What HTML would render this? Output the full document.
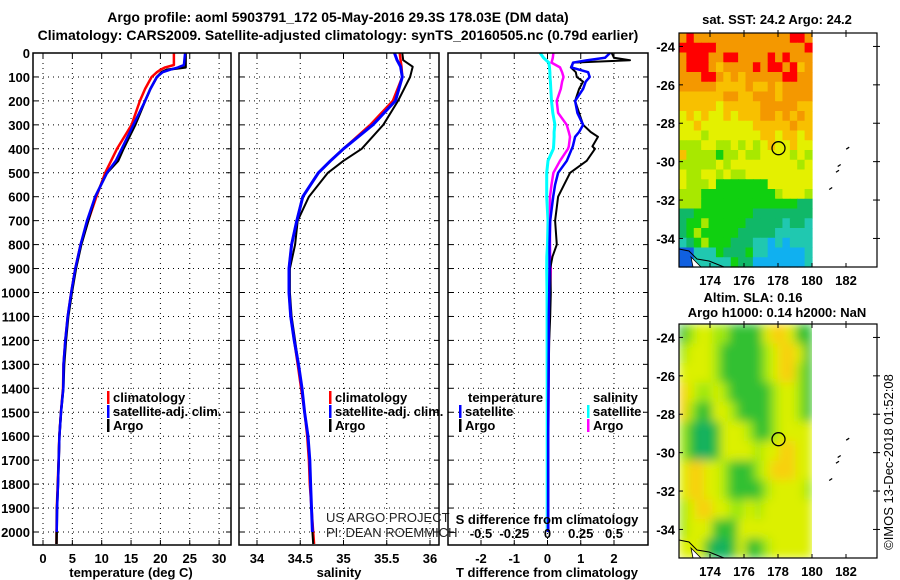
<!DOCTYPE html>
<html><head><meta charset="utf-8"><style>
html,body{margin:0;padding:0;background:#fff;}
svg{display:block;font-family:"Liberation Sans",sans-serif;}
.b{font-weight:bold;font-size:13px;}
.n{font-size:13px;}
</style></head><body>
<svg id="c" width="900" height="580" viewBox="0 0 900 580">
<defs>
<filter id="blur" x="0" y="0" width="1" height="1"><feGaussianBlur stdDeviation="5" edgeMode="duplicate"/></filter>
<clipPath id="clipsla"><rect x="679" y="324" width="133" height="234"/></clipPath>
</defs>
<text x="338" y="22" text-anchor="middle" class="b" style="font-size:14px">Argo profile: aoml 5903791_172 05-May-2016 29.3S 178.03E (DM data)</text>
<text x="338" y="40" text-anchor="middle" class="b" style="font-size:14px">Climatology: CARS2009. Satellite-adjusted climatology: synTS_20160505.nc (0.79d earlier)</text>
</svg>
<script>
// ---- data ----
const tDepth = [0,50,60,70,80,100,150,200,300,400,450,500,600,700,800,900,1000,1100,1200,1300,1400,1500,1600,1700,1800,1900,2000,2050];
const tArgo  = [24.3,24.3,24.3,21.1,20.2,19.4,18.3,17.4,15.7,13.7,12.8,10.9,8.9,7.7,6.5,5.6,4.9,4.3,3.9,3.6,3.46,3.07,2.8,2.67,2.56,2.38,2.33,2.3];
const tClim  = [22.3,22.3,20.8,20.0,19.4,18.5,17.4,16.5,15.1,12.6,11.6,10.6,9.1,7.7,6.4,5.5,4.8,4.2,3.8,3.5,3.4,3.05,2.78,2.65,2.5,2.35,2.3,2.3];
const tSat   = [24.2,24.0,23.0,21.6,20.4,19.4,18.3,17.4,15.4,13.4,12.4,10.9,8.9,7.5,6.4,5.5,4.8,4.2,3.8,3.5,3.46,3.07,2.8,2.67,2.56,2.4,2.33];
const sDepth = [0,30,57,100,200,300,400,450,500,600,700,800,900,1000,1100,1200,1300,1400,1500,1600,1700,1800,1900,2000,2050];
const sArgo  = [35.68,35.69,35.80,35.77,35.63,35.46,35.21,35.0,34.82,34.60,34.47,34.44,34.38,34.38,34.40,34.44,34.48,34.52,34.55,34.59,34.61,34.62,34.63,34.64,34.65];
const sClim  = [35.65,35.66,35.67,35.68,35.57,35.31,35.0,34.85,34.71,34.53,34.46,34.40,34.37,34.37,34.39,34.43,34.47,34.51,34.55,34.58,34.60,34.61,34.63,34.65,34.66];
const sSat   = [35.59,35.62,35.66,35.68,35.60,35.34,35.0,34.85,34.71,34.53,34.46,34.40,34.37,34.37,34.39,34.43,34.48,34.52,34.55,34.59,34.61,34.62,34.63,34.64];
const dDepth = [0,20,30,40,60,80,100,120,150,200,250,300,330,350,390,400,450,500,550,600,700,800,850,900,1000,1100,1200,1400,1600,1800,2000];
const dTArgo = [1.93,2.0,2.48,0.77,0.70,0.85,0.88,1.07,0.95,0.83,0.95,1.07,1.3,1.52,1.35,1.43,1.18,0.68,0.5,0.32,0.23,0.28,0.15,0.08,0.1,0.08,0.05,0.03,0.02,0.03,0.02];
const dTSat  = [1.88,1.73,1.2,0.77,0.72,1.22,1.27,1.15,1.07,0.83,0.9,1.07,0.95,0.83,0.76,0.73,0.58,0.32,0.23,0.17,0.08,0.06,0.06,0.06,0.05,0.04,0.04,0.03,0.02,0.02,0.02];
const dSArgo = [0.044,0.04,0.035,0.03,0.094,0.11,0.12,0.11,0.10,0.069,0.08,0.144,0.16,0.169,0.16,0.154,0.094,0.044,0.03,0.019,0.019,0.019,0.02,0.025,0.02,0.015,0.01,0.008,0.005,0.005,0.004];
const dSSat  = [-0.056,-0.03,-0.01,0.01,0.015,0.018,0.019,0.022,0.025,0.03,0.04,0.056,0.05,0.05,0.046,0.044,0.004,-0.006,-0.006,-0.006,0.004,0.0,-0.005,-0.006,-0.004,-0.003,-0.003,-0.002,-0.002,-0.002,-0.002];
const depthTicks = [0,100,200,300,400,500,600,700,800,900,1000,1100,1200,1300,1400,1500,1600,1700,1800,1900,2000];
const tTicks = [0,5,10,15,20,25,30];
const sTicks = [34,34.5,35,35.5,36];
const sTickLabels = ["34","34.5","35","35.5","36"];
const dTTicks = [-2,-1,0,1,2];
const dSTicks = [-0.5,-0.25,0,0.25,0.5];
const dSTickLabels = ["-0.5","-0.25","0","0.25","0.5"];
const latTicks = [-24,-26,-28,-30,-32,-34];
const lonTicks = [174,176,178,180,182];
const sstRows = [
"OROOOOOOOOOOOOORRO","RRRRROOOOOOOOOOOOR","ORRROORROOOOROROOO","ORRROAOOOORORRORAO","OOORROAOAOOOOORROO",
"OOOOOAAAAOAAOAOOOO","AAAAAAOOAAOOOAOOOO","AAAAAYAAAAAOOOOOAA","YAYAYYAYAAAOOAOAOA","YYAYYYYYYYAAAAAOAA",
"YYYLYYYYYYYAAYAAYA","LLLYYLLYLYLYAYYAYY","ALLLLGLLYLLYYYYLYL","LLLLLYLYYYYYYYYYLY","YLLYYLYLLYYYYYYYYY",
"YLLLYGGGGGGGYYYYYY","LLLGGGGGGGGGGLYYYL","LLLGGGGGGGGGGGGGTT","TTGGGGGGGGTTTTTTTT","TGGLGGGGGTTTTTCTTC",
"TGLGGGGGTTTTTCCCCC","CTGLGGGTTTCCBCBCCC","DDCCCGTTTGCCBBBBBC","DDCCCCCGTTBBBBBBBC"];
const slaRows = ["GLYYLLGGGGYOOYGG","LYYYLGGGGGLYOOYG","YYYYLGGGGGLYOOLG","OYLLYLGGGGGLYYLG","OLGGYYLGGGGLYYLG","LGTTGYYYLGGLYYYY","LGTTGYYYYLYYOOYY","YOOYYLGGGLYOOOYY","YOOYYLGGGGLYYYYL","LYOOYYLLYLYYYYYY","LYYYGGGYYYYYYYYY","YYYGTTGYGGLYYYYY"];
const argoLon = 178.03, argoLat = -29.3;

// ---- drawing ----
const NS="http://www.w3.org/2000/svg";
const svg=document.getElementById('c');
function mk(tag,attrs,parent){const e=document.createElementNS(NS,tag);for(const k in attrs)e.setAttribute(k,attrs[k]);(parent||svg).appendChild(e);return e;}
const Y0=53, Y1=545;
const yD=d=>Y0+d*0.2395;
function panel(name){
  const g=mk('g',{});
  
  
  return g;
}
function frame(g,x0,x1){
  const r=mk('rect',{x:x0,y:Y0,width:x1-x0,height:Y1-Y0,fill:'none',stroke:'#000','stroke-width':1.5},g);
  
  
}
function grid(g,x0,x1,xs,xf){
  depthTicks.forEach(d=>{mk('line',{x1:x0,x2:x1,y1:yD(d),y2:yD(d),stroke:'#000','stroke-dasharray':'1 4','stroke-width':1},g);
    mk('line',{x1:x0,x2:x0+5,y1:yD(d),y2:yD(d),stroke:'#000'},g);mk('line',{x1:x1-5,x2:x1,y1:yD(d),y2:yD(d),stroke:'#000'},g);});
  xs.forEach(v=>{mk('line',{x1:xf(v),x2:xf(v),y1:Y0,y2:Y1,stroke:'#000','stroke-dasharray':'1 4'},g);
    mk('line',{x1:xf(v),x2:xf(v),y1:Y1-5,y2:Y1,stroke:'#000'},g);mk('line',{x1:xf(v),x2:xf(v),y1:Y0,y2:Y0+5,stroke:'#000'},g);});
}
function line(g,depths,vals,xf,color,w,name){
  let d='';
  for(let i=0;i<vals.length;i++){d+=(i?'L':'M')+xf(vals[i]).toFixed(1)+' '+yD(depths[i]).toFixed(1);}
  const p=mk('path',{d:d,fill:'none',stroke:color,'stroke-width':w,'stroke-linejoin':'round'},g);
  
  
}
function txt(g,x,y,s,anchor,cls,extra){const t=mk('text',Object.assign({x:x,y:y,'text-anchor':anchor||'start',class:cls||'b'},extra||{}),g);t.textContent=s;return t;}
function legendItem(g,x,y,color,label,name){
  mk('rect',{x:x,y:y-11,width:2.5,height:13,fill:color},g);
  const t=txt(g,x+6,y,label);
  
  
}

// Panel 1 temperature
{const x0=33,x1=231,xf=v=>43+v*5.87;const g=panel('temperature-panel');
 grid(g,x0,x1,tTicks,xf);
 depthTicks.forEach(d=>{const t=txt(g,30,yD(d)+5,String(d),'end');});
 tTicks.forEach(v=>{const t=txt(g,xf(v),563,String(v),'middle');});
 const xl=txt(g,131,577,'temperature (deg C)','middle');
 line(g,tDepth,tClim,xf,'#f00',2.5,'temperature-climatology-line');
 line(g,tDepth,tArgo,xf,'#000',2.5,'temperature-argo-line');
 line(g,tDepth.slice(0,tSat.length),tSat,xf,'#00f',2.5,'temperature-satellite-line');
 frame(g,x0,x1);
 legendItem(g,107,402,'#f00','climatology','legend-climatology');
 legendItem(g,107,416,'#00f','satellite-adj. clim.','legend-satellite-adj');
 legendItem(g,107,430,'#000','Argo','legend-argo');
}
// Panel 2 salinity
{const x0=239,x1=439,xf=v=>257+(v-34)*86.5;const g=panel('salinity-panel');
 grid(g,x0,x1,sTicks,xf);
 sTicks.forEach((v,i)=>{const t=txt(g,xf(v),563,sTickLabels[i],'middle');});
 const xl=txt(g,339,577,'salinity','middle');
 line(g,sDepth,sClim,xf,'#f00',2.5,'salinity-climatology-line');
 line(g,sDepth,sArgo,xf,'#000',2,'salinity-argo-line');
 line(g,sDepth.slice(0,sSat.length),sSat,xf,'#00f',3,'salinity-satellite-line');
 frame(g,x0,x1);
 legendItem(g,329,402,'#f00','climatology','legend-climatology-2');
 legendItem(g,329,416,'#00f','satellite-adj. clim.','legend-satellite-adj-2');
 legendItem(g,329,430,'#000','Argo','legend-argo-2');
 const n1=txt(g,326,522,'US ARGO PROJECT','start','n',{fill:'#222'});
 const n2=txt(g,326,537,'PI: DEAN ROEMMICH','start','n',{fill:'#222'});
}
// Panel 3 differences
{const x0=448,x1=648,xT=v=>547.5+v*33.25,xS=v=>547.5+v*133;const g=panel('difference-panel');
 grid(g,x0,x1,dTTicks,xT);
 dTTicks.forEach(v=>{const t=txt(g,xT(v),563,String(v),'middle');});
 const xl=txt(g,547,577,'T difference from climatology','middle');
 line(g,dDepth,dSSat,xS,'#0ff',3,'salinity-satellite-diff-line');
 line(g,dDepth,dSArgo,xS,'#f0f',2.5,'salinity-argo-diff-line');
 line(g,dDepth,dTArgo,xT,'#000',2,'temperature-argo-diff-line');
 line(g,dDepth,dTSat,xT,'#00f',2.5,'temperature-satellite-diff-line');
 frame(g,x0,x1);
 const st=txt(g,547,524,'S difference from climatology','middle');
 dSTicks.forEach((v,i)=>{const t=txt(g,xS(v),538,dSTickLabels[i],'middle');});
 const lt=txt(g,468,402,'temperature');
 legendItem(g,459,416,'#00f','satellite','legend-t-satellite');
 legendItem(g,459,430,'#000','Argo','legend-t-argo');
 const ls=txt(g,593,402,'salinity');
 legendItem(g,587,416,'#0ff','satellite','legend-s-satellite');
 legendItem(g,587,430,'#f0f','Argo','legend-s-argo');
}
// Maps
const sstCol={R:'#ff0000',O:'#f49800',A:'#f8c000',Y:'#e4f000',L:'#a8e800',G:'#10d010',T:'#10b868',C:'#20c8b0',B:'#10b0f0',D:'#1060e0'};
const slaCol={Y:'#dcf000',O:'#f8d010',L:'#a0e810',G:'#30c030',T:'#10b060'};
function map(top,rows,cols,name,titles,smooth){
  const bot=top+234, mx0=679, mx1=877;
  const lonX=l=>812+(l-180)*17, latY=a=>top+(-23.3-a)*19.2;
  const g=mk('g',{});
  
  
  let cg=g;
  if(smooth){const cl=mk('g',{'clip-path':'url(#clipsla)'},g);cg=mk('g',{filter:'url(#blur)'},cl);}
  const nr=rows.length, nc=rows[0].length, cw=(812-mx0)/nc, ch=(bot-top)/nr;
  rows.forEach((r,i)=>{for(let j=0;j<nc;j++){const c=mk('rect',{x:(mx0+j*cw).toFixed(2),y:(top+i*ch).toFixed(2),width:(cw+0.6).toFixed(2),height:(ch+0.6).toFixed(2),fill:cols[r[j]]},cg);
    
    }});
  mk('path',{d:`M${mx0} ${bot-18} L${mx0+10} ${bot-16} L${mx0+18} ${bot-8} L${mx0+30} ${bot-6} L${mx0+45} ${bot}`,fill:'none',stroke:'#000','stroke-width':1},g);
  mk('path',{d:`M${mx0+12} ${bot-10} L${mx0+22} ${bot} L${mx0+14} ${bot} Z`,fill:'#fff',stroke:'#000','stroke-width':0.8},g);
  [[182.1,-29.3],[181.6,-30.2],[181.5,-30.5],[181.1,-31.4]].forEach(p=>{mk('path',{d:`M${lonX(p[0])-1.5} ${latY(p[1])+1} L${lonX(p[0])+1.5} ${latY(p[1])-1}`,stroke:'#000','stroke-width':1.3},g);});
  const circ=mk('circle',{cx:lonX(argoLon),cy:latY(argoLat),r:6.5,fill:'none',stroke:'#000','stroke-width':1.3},g);
  
  
  mk('rect',{x:mx0,y:top,width:mx1-mx0,height:bot-top,fill:'none',stroke:'#000','stroke-width':1.2},g);
  latTicks.forEach(a=>{const y=latY(a);mk('line',{x1:mx0,x2:mx0+4,y1:y,y2:y,stroke:'#000'},g);mk('line',{x1:mx1-4,x2:mx1+3,y1:y,y2:y,stroke:'#000'},g);
    const t=txt(g,675,y+5,String(a),'end');});
  lonTicks.forEach(l=>{const x=lonX(l);mk('line',{x1:x,x2:x,y1:top-3,y2:top+4,stroke:'#000'},g);mk('line',{x1:x,x2:x,y1:bot-4,y2:bot,stroke:'#000'},g);
    const t=txt(g,x,bot+18,String(l),'middle');});
  titles.forEach(s=>{const t=txt(g,s[1],s[2],s[0],'middle');});
}
map(33,sstRows,sstCol,'sst-map',[['sat. SST: 24.2 Argo: 24.2',777,24]],false);
map(324,slaRows,slaCol,'sla-map',[['Altim. SLA: 0.16',753,302],['Argo h1000: 0.14 h2000: NaN',777,317]],true);
const cp=mk('text',{x:0,y:0,transform:'translate(893,462) rotate(-90)','text-anchor':'middle','font-size':'13'});
cp.textContent='©IMOS 13-Dec-2018 01:52:08';


</script>
</body></html>
